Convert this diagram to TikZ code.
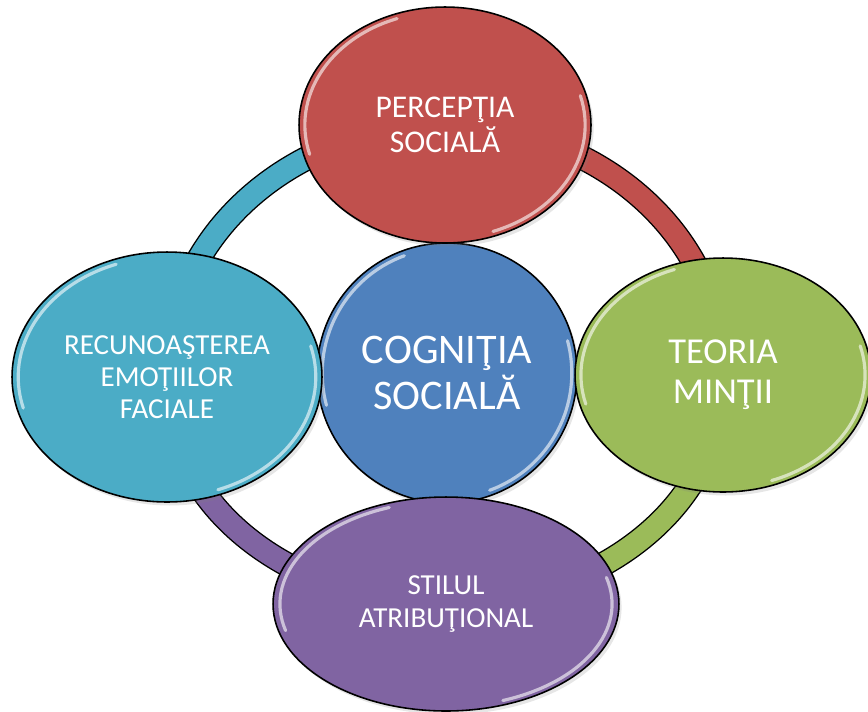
\documentclass[tikz,border=0pt]{standalone}
\usepackage{fontspec}
\setmainfont{Carlito}
\usepackage{tikz}
\usetikzlibrary{shapes.geometric}
\usetikzlibrary{backgrounds}
\usetikzlibrary{calc}
\usetikzlibrary{shadows}

\definecolor{rosu}{HTML}{C0504D}
\definecolor{albastru}{HTML}{4F81BD}
\definecolor{turcoaz}{HTML}{4BACC6}
\definecolor{verde}{HTML}{9BBB59}
\definecolor{mov}{HTML}{8064A2}

\begin{document}
\begin{tikzpicture}[x=0.02cm, y=-0.02cm,
    glint/.style={path picture={
        \draw[white, opacity=0.6, line width=1.8pt, line cap=round]
          let \p1=(path picture bounding box.center), \p2=(path picture bounding box.north east),
              \n1={0.96*(\x2-\x1)}, \n2={0.96*(\y2-\y1)} in
          ({\x1+\n1*cos(110)},{\y1+\n2*sin(110)}) arc[start angle=110, end angle=195, x radius=\n1, y radius=\n2]
          ({\x1+\n1*cos(-70)},{\y1+\n2*sin(-70)}) arc[start angle=-70, end angle=15, x radius=\n1, y radius=\n2];
    }},
    bila/.style={ellipse, draw=black, line width=0.9pt, text=white, align=center, inner sep=0pt,
        drop shadow={opacity=0.2, shadow xshift=1.5pt, shadow yshift=-2pt}, glint},
    ring/.style={draw=black, line width=0.8pt, double distance=0.44cm}]

    \useasboundingbox (0,0) rectangle (868,711);

    \node[bila, fill=albastru, minimum width=5.2cm, minimum height=5.2cm, font=\fontsize{24}{26.5}\selectfont] (cognitia) at (447,373) {COGNIŢIA\\SOCIALĂ};
    \node[bila, fill=rosu, minimum width=5.84cm, minimum height=4.72cm, font=\fontsize{18}{20}\selectfont] (perceptia) at (445,125) {PERCEPŢIA\\SOCIALĂ};
    \node[bila, fill=turcoaz, minimum width=6.2cm, minimum height=5cm, font=\fontsize{16.5}{18.3}\selectfont] (recunoasterea) at (167,377) {RECUNOAŞTEREA\\EMOŢIILOR\\FACIALE};
    \node[bila, fill=verde, minimum width=5.92cm, minimum height=4.68cm, font=\fontsize{20.8}{22.7}\selectfont] (teoria) at (723,375) {TEORIA\\MINŢII};
    \node[bila, fill=mov, minimum width=6.92cm, minimum height=4.28cm, font=\fontsize{16.5}{18.8}\selectfont] (stilul) at (446,604) {STILUL\\ATRIBUŢIONAL};

    \begin{pgfonlayer}{background}
    \draw (recunoasterea.center) edge[ring, double=turcoaz, out=90, in=180] (perceptia.center);
    \draw (perceptia.center) edge[ring, double=rosu, out=0, in=90] (teoria.center);
    \draw (teoria.center) edge[ring, double=verde, out=270, in=0] (stilul.center);
    \draw (stilul.center) edge[ring, double=mov, out=180, in=270] (recunoasterea.center);
    \end{pgfonlayer}
\end{tikzpicture}
\end{document}
